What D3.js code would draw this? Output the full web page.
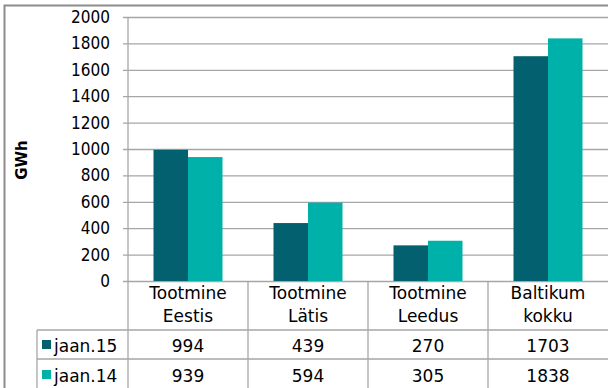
<!DOCTYPE html>
<html>
<head>
<meta charset="utf-8">
<script src="https://cdn.jsdelivr.net/npm/d3@7"></script>
<style>
  body { margin: 0; background: #fff; }
  svg { display: block; font-family: "DejaVu Sans", sans-serif; }
</style>
</head>
<body>
<svg id="chart" width="608" height="388"></svg>
<script>
var categories = [["Tootmine", "Eestis"], ["Tootmine", "Lätis"], ["Tootmine", "Leedus"], ["Baltikum", "kokku"]]
var seriesNames = ["jaan.15", "jaan.14"]
var jaan15 = [994, 439, 270, 1703]
var jaan14 = [939, 594, 305, 1838]
var yTicks = [0, 200, 400, 600, 800, 1000, 1200, 1400, 1600, 1800, 2000]
var colors = ["#03616f", "#00b1a9"]

; (function () {
    var svg = d3.select("#chart")
    var m = { left: 128, right: 608, top: 17, bottom: 281 }
    var tableLeft = 37, row1 = 330, row2 = 359, tableBottom = 388
    var grid = "#a6a6a6"

    var series = [jaan15, jaan14]
    var idx = d3.range(categories.length)

    var x = d3.scaleBand().domain(idx).range([m.left, m.right])
    var xs = d3.scaleBand().domain([0, 1]).range([25.5, 94.5])
    var y = d3.scaleLinear().domain([0, 2000]).range([m.bottom, m.top])

    // outer frame
    svg.append("path")
        .attr("d", "M4.5,388 V5.5 H608")
        .attr("fill", "none").attr("stroke", "#8c8c8c").attr("stroke-width", 2)

    // gridlines + y axis
    var yAxis = d3.axisLeft(y).tickValues(yTicks).tickFormat(d3.format("d"))
        .tickSize(-(m.right - m.left)).tickPadding(18)
    var gy = svg.append("g").attr("transform", "translate(" + m.left + ",0)").call(yAxis)
    gy.select(".domain").remove()
    gy.selectAll(".tick line").attr("stroke", grid).attr("x1", -5).attr("stroke-width", 1.3)
    gy.selectAll(".tick text").attr("fill", "#000").style("font-size", "17px")
        .attr("font-family", "DejaVu Sans Condensed")

    svg.append("line").attr("x1", m.left).attr("x2", m.left).attr("y1", m.top).attr("y2", tableBottom)
        .attr("stroke", grid).attr("stroke-width", 1.3)

    // bars
    series.forEach(function (vals, s) {
        svg.append("g").selectAll("rect")
            .data(vals)
            .enter().append("rect")
            .attr("x", function (d, i) { return x(i) + xs(s) })
            .attr("width", xs.bandwidth())
            .attr("y", function (d) { return y(d) })
            .attr("height", function (d) { return y(0) - y(d) })
            .attr("fill", colors[s])
    })

    // table lines
    idx.slice(1).forEach(function (i) {
        svg.append("line").attr("x1", x(i)).attr("x2", x(i)).attr("y1", m.bottom).attr("y2", tableBottom)
            .attr("stroke", grid).attr("stroke-width", 1.3)
    })
    ;[row1, row2].forEach(function (ry) {
        svg.append("line").attr("x1", tableLeft).attr("x2", m.right).attr("y1", ry).attr("y2", ry)
            .attr("stroke", grid).attr("stroke-width", 1.3)
    })
    svg.append("line").attr("x1", tableLeft).attr("x2", tableLeft).attr("y1", row1).attr("y2", tableBottom)
        .attr("stroke", grid).attr("stroke-width", 1.3)

    // category labels
    var cat = svg.append("g").selectAll("text")
        .data(categories)
        .enter().append("text")
        .attr("text-anchor", "middle")
        .style("font-size", "17px")
    cat.selectAll("tspan")
        .data(function (d, i) { return d.map(function (t) { return { t: t, i: i } }) })
        .enter().append("tspan")
        .attr("x", function (d) { return x(d.i) + x.bandwidth() / 2 })
        .attr("y", function (d, k) { return 299 + k * 23 })
        .text(function (d) { return d.t })

    // table values + legend
    var rowBase = [352, 382]
    series.forEach(function (vals, s) {
        svg.append("rect").attr("x", 42).attr("y", rowBase[s] - 12).attr("width", 9).attr("height", 9).attr("fill", colors[s])
        svg.append("text").attr("x", 54).attr("y", rowBase[s]).style("font-size", "17px").text(seriesNames[s])
        svg.append("g").selectAll("text")
            .data(vals)
            .enter().append("text")
            .attr("x", function (d, i) { return x(i) + x.bandwidth() / 2 })
            .attr("y", rowBase[s])
            .attr("text-anchor", "middle")
            .style("font-size", "17px")
            .text(function (d) { return d })
    })

    // y title
    svg.append("text")
        .attr("transform", "translate(27,160) rotate(-90)")
        .attr("text-anchor", "middle")
        .style("font-size", "15px").style("font-weight", "bold")
        .text("GWh")
})();
</script>
</body>
</html>
